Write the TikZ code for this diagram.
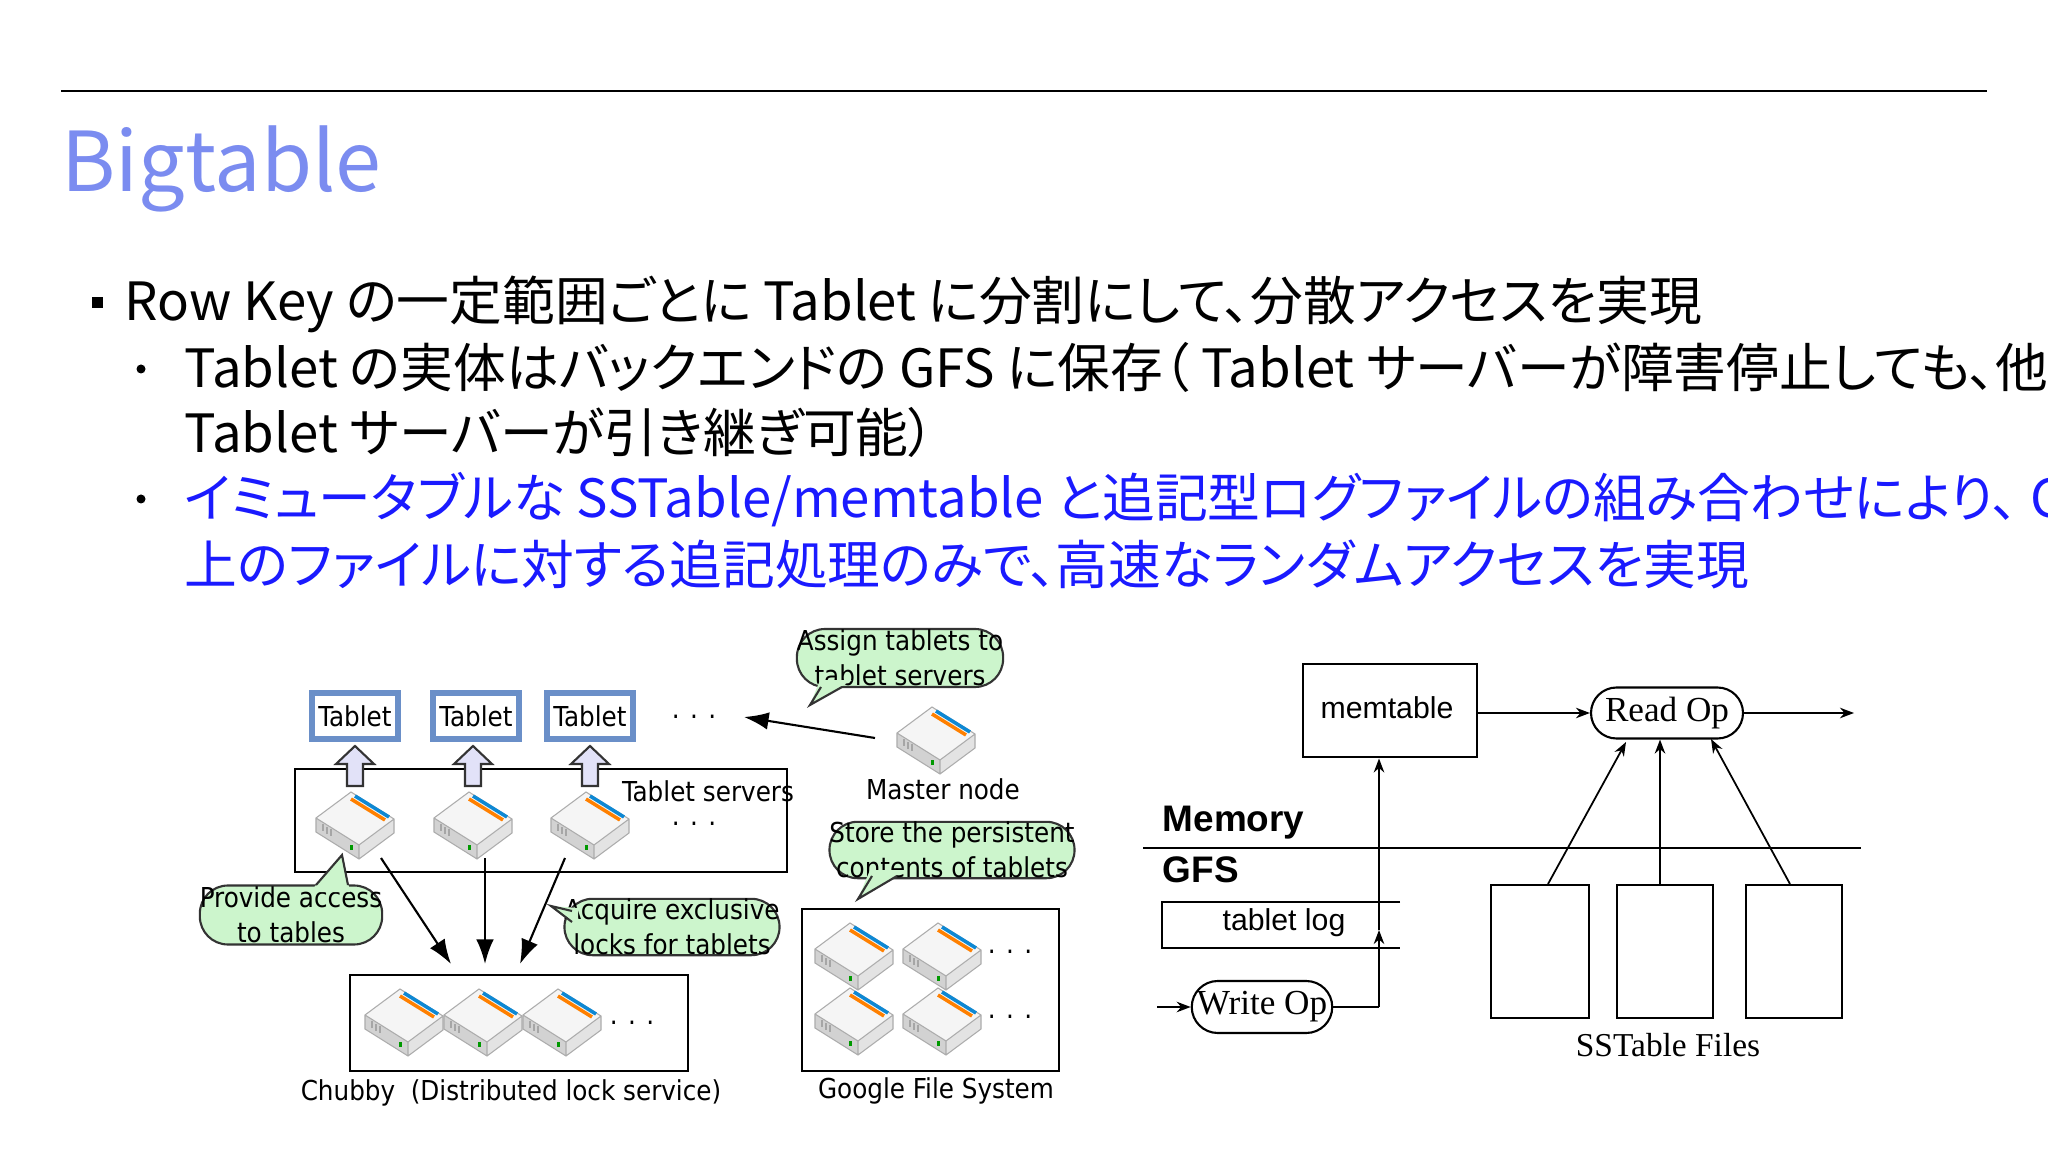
\documentclass[tikz,border=0pt]{standalone}
\usepackage{fontspec}
\setmainfont{Noto Sans CJK JP}[RawFeature=+palt]
\newfontfamily\dejafont{DejaVu Sans Condensed}
\newfontfamily\helv{Liberation Sans}
\newfontfamily\tms{Liberation Serif}
\usetikzlibrary{arrows.meta,shapes.misc}
\definecolor{titleblue}{HTML}{7B8CF0}
\definecolor{textblue}{HTML}{1A1AFF}
\definecolor{bubfill}{HTML}{CCF5CC}
\definecolor{tabblue}{HTML}{6A8FC8}
\definecolor{upfill}{HTML}{E2E2F8}
\newlength{\pxu}\setlength{\pxu}{0.01cm}
\tikzset{
  box/.style={draw,line width=0.7pt,anchor=north west,inner sep=0},
  tabletbox/.style={draw=tabblue,line width=1.8pt,fill=white,minimum width=86\pxu,minimum height=46\pxu,inner sep=0,font=\dejafont\fontsize{7.8}{9}\selectfont},
  bubble/.style={draw=black!80,fill=bubfill,rounded corners=8pt,line width=0.6pt,font=\dejafont\fontsize{7.8}{10}\selectfont,align=center,inner sep=0pt},
  lab/.style={font=\dejafont\fontsize{7.8}{9}\selectfont,inner sep=0},
  bigarr/.style={-{Latex[length=7pt,width=5pt]},line width=0.6pt},
  smallarr/.style={-{Stealth[length=4pt,width=3pt]},line width=0.5pt},
  rop/.style={draw,rounded rectangle,line width=0.6pt,inner sep=0,font=\tms\fontsize{10}{12}\selectfont},
  pics/server/.style={code={
    \fill[gray!8] (-39,-6)--(-4,-32)--(39,-5)--(4,21)--cycle;
    \fill[gray!35] (-39,-6)--(4,21)--(4,35)--(-39,8)--cycle;
    \fill[gray!22] (4,21)--(39,-5)--(39,9)--(4,35)--cycle;
    \draw[gray!65,line width=0.3pt] (-39,-6)--(-4,-32)--(39,-5)--(39,9)--(4,35)--(-39,8)--cycle (-39,-6)--(4,21)--(39,-5) (4,21)--(4,35);
    \draw[cyan!70!blue,line width=1pt] (0,-28)--(34,-7);
    \draw[orange,line width=1pt] (-4,-25)--(30,-4);
    \draw[gray!70,line width=0.3pt] (-32,0)--(-32,7) (-28,3)--(-28,10) (-24,5)--(-24,12);
    \fill[green!60!black] (-5,21) rectangle (-2,26);
  }},
  uparr/.style={draw=black!80,fill=upfill,line width=0.6pt}
}
\newcommand{\myuparr}[1]{%
  \filldraw[uparr] (#1-8,786)--(#1-8,764)--(#1-19,764)--(#1,746)--(#1+19,764)--(#1+8,764)--(#1+8,786)--cycle;}
\begin{document}
\begin{tikzpicture}[x=0.01cm,y=-0.01cm]
\useasboundingbox (0,0) rectangle (2048,1152);
\fill[white] (0,0) rectangle (2048,1152);
% header
\draw[line width=0.8pt] (61,91) -- (1987,91);
\node[anchor=base west,text=titleblue,font=\fontsize{23.5}{28}\selectfont,inner sep=0] (title) at (61,192) {Bigtable};
% bullets
\tikzset{bt/.style={anchor=base west,inner sep=0,font=\fontsize{15}{17}\selectfont}}
\fill (92,297) rectangle (103,308);
\node[bt] (l1) at (124,321) {Row Key の一定範囲ごとに Tablet に分割にして、分散アクセスを実現};
\fill (141,369) circle (4.5);
\node[bt] (l2) at (184,388) {Tablet の実体はバックエンドの GFS に保存（ Tablet サーバーが障害停止しても、他の};
\node[bt] (l3) at (184,453) {Tablet サーバーが引き継ぎ可能）};
\fill (141,499) circle (4.5);
\node[bt,text=textblue] (l4) at (184,518) {イミュータブルな SSTable/memtable と追記型ログファイルの組み合わせにより、 GFS};
\node[bt,text=textblue] (l5) at (184,584) {上のファイルに対する追記処理のみで、高速なランダムアクセスを実現};

% ===== left diagram =====
\node[box,minimum width=492\pxu,minimum height=103\pxu] (ts) at (294,768) {};
\node[box,minimum width=338\pxu,minimum height=96\pxu] (chubby) at (349,974) {};
\node[box,minimum width=257\pxu,minimum height=162\pxu] (gfsbox) at (801,908) {};
\node[lab] (tsname) at (708,791) {Tablet servers};
\node[lab] (tsdots) at (694,824) {. . .};
% tablets
\node[tabletbox] (t1) at (355,716) {Tablet};
\node[tabletbox] (t2) at (476,716) {Tablet};
\node[tabletbox] (t3) at (590,716) {Tablet};
\node[lab] (tdots) at (694,717) {. . .};
\myuparr{355}\myuparr{473}\myuparr{590}
% servers
\pic at (355,824) {server};
\pic at (473,824) {server};
\pic at (590,824) {server};
\pic at (936,739) {server};
\node[lab] (master) at (943,789) {Master node};
\coordinate (mfrom) at (875,738);
\coordinate (mto) at (744,717);
\draw[bigarr] (mfrom) -- (mto);
% chubby servers
\pic at (404,1021) {server};
\pic at (483,1021) {server};
\pic at (562,1021) {server};
\node[lab] (cdots) at (632,1023) {. . .};
\node[lab] (clab) at (511,1093) {Chubby\ \ (Distributed lock service)};
% gfs servers
\pic at (854,955) {server};
\pic at (942,955) {server};
\pic at (854,1020) {server};
\pic at (942,1020) {server};
\node[lab] (gd1) at (1010,952) {. . .};
\node[lab] (gd2) at (1010,1017) {. . .};
\node[lab] (glab) at (936,1091) {Google File System};
% arrows to chubby
\coordinate (s1) at (381,858); \coordinate (c1) at (451,964);
\coordinate (s2) at (485,858); \coordinate (c2) at (485,964);
\coordinate (s3) at (565,858); \coordinate (c3) at (520,964);
\draw[bigarr] (s1)--(c1); \draw[bigarr] (s2)--(c2); \draw[bigarr] (s3)--(c3);
% bubbles
\node[bubble,minimum width=199\pxu,minimum height=58\pxu] (assign) at (900,658) {Assign tablets to\\tablet servers};
\fill[bubfill] (820,680)--(810,705)--(852,680)--cycle; \draw[black!80,line width=0.6pt] (821,687)--(810,705)--(842,687);
\node[bubble,minimum width=170\pxu,minimum height=59\pxu] (provide) at (291,915) {Provide access\\to tables};
\fill[bubfill] (310,892)--(342,855)--(350,892)--cycle; \draw[black!80,line width=0.6pt] (316,885)--(342,855)--(348,885);
\node[bubble,minimum width=201\pxu,minimum height=51\pxu] (acquire) at (672,927) {Acquire exclusive\\locks for tablets};
\fill[bubfill] (578,908)--(551,906)--(578,925)--cycle; \draw[black!80,line width=0.6pt] (572,911)--(551,906)--(572,922);
\node[bubble,minimum width=214\pxu,minimum height=53\pxu] (store) at (952,850) {Store the persistent\\contents of tablets};
\fill[bubfill] (870,870)--(858,899)--(905,870)--cycle; \draw[black!80,line width=0.6pt] (872,876)--(858,899)--(897,876);

% ===== right diagram =====
\node[box,minimum width=174\pxu,minimum height=93\pxu] (mem) at (1302,663) {};
\node[font=\helv\fontsize{8.6}{10}\selectfont,inner sep=0] (memtxt) at (1387,708) {memtable};
\node[rop,minimum width=152\pxu,minimum height=51\pxu] (read) at (1667,713) {Read Op};
\coordinate (rout) at (1854,713);
\draw[smallarr] (mem.east |- read.west) -- (read.west);
\draw[smallarr] (read.east) -- (rout);
\node[anchor=base west,inner sep=0,font=\helv\bfseries\fontsize{10.5}{12}\selectfont] (memory) at (1162,831) {Memory};
\node[anchor=base west,inner sep=0,font=\helv\bfseries\fontsize{10.5}{12}\selectfont] (gfs) at (1162,882) {GFS};
\coordinate (h1) at (1143,848); \coordinate (h2) at (1861,848);
\draw[line width=0.6pt] (h1)--(h2);
\coordinate (tl1) at (1162,902); \coordinate (tl2) at (1400,902);
\coordinate (tl3) at (1162,948); \coordinate (tl4) at (1400,948);
\draw[line width=0.6pt] (tl2)--(tl1)--(tl3)--(tl4);
\node[font=\helv\fontsize{8.6}{10}\selectfont,inner sep=0] (tlog) at (1284,923) {tablet log};
\node[rop,minimum width=121\pxu,minimum height=52\pxu] (write) at (1262,1007) {Write Op};
\coordinate (win) at (1157,1007);
\draw[smallarr] (win) -- (write.west);
\coordinate (wc) at (1379,1007);
\coordinate (wmid) at (1379,930);
\draw[line width=0.5pt] (write.east) -- (wc);
\draw[smallarr] (wc) -- (wmid);
\draw[smallarr] (wmid) -- (mem.south -| wmid);
% sstables
\node[box,minimum width=98\pxu,minimum height=133\pxu] (ss1) at (1490,884) {};
\node[box,minimum width=96\pxu,minimum height=133\pxu] (ss2) at (1616,884) {};
\node[box,minimum width=96\pxu,minimum height=133\pxu] (ss3) at (1745,884) {};
\draw[smallarr] (1548,884) -- (1626,742);
\draw[smallarr] (ss2.north -| 1660,0) -- (read.south -| 1660,0);
\draw[smallarr] (1790,884) -- (1711,739);
\node[font=\tms\fontsize{9.5}{11}\selectfont,inner sep=0] (sslab) at (1668,1045) {SSTable Files};
\end{tikzpicture}
\end{document}
